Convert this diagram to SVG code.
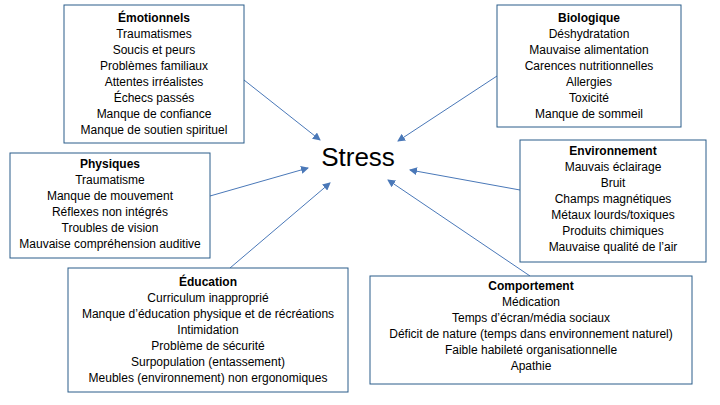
<svg xmlns="http://www.w3.org/2000/svg" width="720" height="405" viewBox="0 0 720 405">
<style>
.box{fill:#fff;stroke:#2a5d8a;stroke-width:1}
text{font-family:"Liberation Sans",Arial,sans-serif;font-size:12px;fill:#000;text-anchor:middle}
.t{font-weight:bold}
.c line{stroke:#4a78b8;stroke-width:1;marker-end:url(#a)}
</style>
<defs><marker id="a" markerWidth="8" markerHeight="8" refX="7" refY="4" orient="auto" markerUnits="userSpaceOnUse"><path d="M0,0 L8,4 L0,8 Z" fill="#4a78b8"/></marker></defs>
<rect width="720" height="405" fill="#fff"/>
<g class="c">
<line x1="244" y1="80" x2="320" y2="140"/>
<line x1="497" y1="76" x2="398" y2="141"/>
<line x1="210" y1="196" x2="308" y2="168"/>
<line x1="520" y1="190" x2="410" y2="170"/>
<line x1="230" y1="268" x2="330" y2="183"/>
<line x1="530" y1="276" x2="388" y2="180"/>
</g>
<g id="stress"><text x="358" y="166" style="font-size:26px">Stress</text></g>
<g id="emotionnels"><rect class="box" x="64" y="5" width="180" height="138"/>
<text x="154" y="22" class="t">Émotionnels</text>
<text x="154" y="38">Traumatismes</text><text x="154" y="54">Soucis et peurs</text><text x="154" y="70">Problèmes familiaux</text><text x="154" y="86">Attentes irréalistes</text><text x="154" y="102">Échecs passés</text><text x="154" y="118">Manque de confiance</text><text x="154" y="134">Manque de soutien spirituel</text></g>
<g id="biologique"><rect class="box" x="497" y="5" width="184" height="122"/>
<text x="589" y="22" class="t">Biologique</text>
<text x="589" y="38">Déshydratation</text><text x="589" y="54">Mauvaise alimentation</text><text x="589" y="70">Carences nutritionnelles</text><text x="589" y="86">Allergies</text><text x="589" y="102">Toxicité</text><text x="589" y="118">Manque de sommeil</text></g>
<g id="physiques"><rect class="box" x="10" y="153" width="200" height="105"/>
<text x="110" y="168" class="t">Physiques</text>
<text x="110" y="184">Traumatisme</text><text x="110" y="200">Manque de mouvement</text><text x="110" y="216">Réflexes non intégrés</text><text x="110" y="232">Troubles de vision</text><text x="110" y="248">Mauvaise compréhension auditive</text></g>
<g id="environnement"><rect class="box" x="520" y="140" width="186" height="122"/>
<text x="613" y="155" class="t">Environnement</text>
<text x="613" y="171">Mauvais éclairage</text><text x="613" y="187">Bruit</text><text x="613" y="203">Champs magnétiques</text><text x="613" y="219">Métaux lourds/toxiques</text><text x="613" y="235">Produits chimiques</text><text x="613" y="251">Mauvaise qualité de l’air</text></g>
<g id="education"><rect class="box" x="68" y="268" width="280" height="124"/>
<text x="208" y="286" class="t">Éducation</text>
<text x="208" y="302">Curriculum inapproprié</text><text x="208" y="318">Manque d’éducation physique et de récréations</text><text x="208" y="334">Intimidation</text><text x="208" y="350">Problème de sécurité</text><text x="208" y="366">Surpopulation (entassement)</text><text x="208" y="382">Meubles (environnement) non ergonomiques</text></g>
<g id="comportement"><rect class="box" x="370" y="276" width="322" height="108"/>
<text x="531" y="290" class="t">Comportement</text>
<text x="531" y="306">Médication</text><text x="531" y="322">Temps d’écran/média sociaux</text><text x="531" y="338">Déficit de nature (temps dans environnement naturel)</text><text x="531" y="354">Faible habileté organisationnelle</text><text x="531" y="370">Apathie</text></g>
</svg>
